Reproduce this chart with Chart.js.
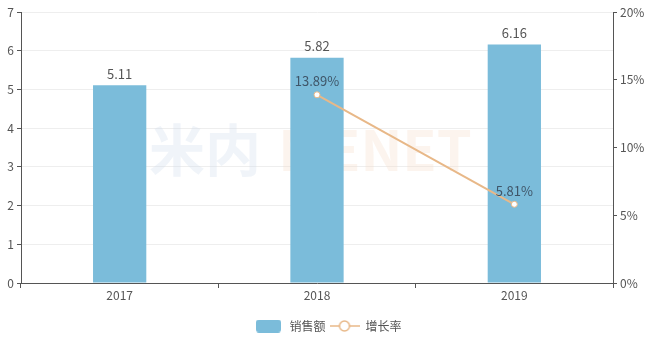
<!DOCTYPE html>
<html>
<head>
<meta charset="utf-8">
<script src="https://cdn.jsdelivr.net/npm/chart.js@4/dist/chart.umd.min.js"></script>
<style>
  html, body { margin: 0; padding: 0; background: #fff; }
  #wrap { width: 655px; height: 342px; }
</style>
</head>
<body>
<div id="wrap"><canvas id="myChart" width="655" height="342"></canvas></div>
<script>
const years = ['2017', '2018', '2019'];
const salesValues = [5.11, 5.82, 6.16];
const growthValues = [null, 13.89, 5.81];
const seriesNames = ['销售额', '增长率'];

const barColor = 'rgb(123, 188, 218)';
const lineColor = 'rgb(232, 184, 136)';
const textColor = '#555';
const fontFamily = '"Noto Sans CJK SC", "Noto Sans", sans-serif';

// legend symbols drawn as small canvases so they look like the original
function makeBarIcon() {
  const c = document.createElement('canvas');
  c.width = 25; c.height = 13;
  const g = c.getContext('2d');
  g.fillStyle = barColor;
  g.beginPath();
  g.roundRect(0, 0, 25, 13, 3);
  g.fill();
  return c;
}
function makeLineIcon() {
  const c = document.createElement('canvas');
  c.width = 30; c.height = 14;
  const g = c.getContext('2d');
  g.strokeStyle = lineColor;
  g.lineWidth = 1.5;
  g.beginPath();
  g.moveTo(0, 7); g.lineTo(30, 7);
  g.stroke();
  g.fillStyle = '#fff';
  g.beginPath();
  g.arc(15, 7, 5, 0, Math.PI * 2);
  g.fill();
  g.stroke();
  return c;
}
const barIcon = makeBarIcon();
const lineIcon = makeLineIcon();

// draws the value labels above bars and points
const valueLabels = {
  id: 'valueLabels',
  afterDatasetsDraw(chart) {
    const ctx = chart.ctx;
    ctx.save();
    ctx.font = '13px ' + fontFamily;
    ctx.textAlign = 'center';
    ctx.textBaseline = 'bottom';
    chart.getDatasetMeta(1).data.forEach((bar, i) => {
      ctx.fillStyle = textColor;
      ctx.fillText(salesValues[i].toFixed(2), bar.x, bar.y - 5);
    });
    chart.getDatasetMeta(0).data.forEach((pt, i) => {
      if (growthValues[i] == null) return;
      ctx.fillStyle = '#3f5568';
      ctx.fillText(growthValues[i].toFixed(2) + '%', pt.x, pt.y - 7);
    });
    ctx.restore();
  }
};

const watermark = {
  id: 'watermark',
  beforeDatasetsDraw(chart) {
    const ctx = chart.ctx;
    ctx.save();
    ctx.font = 'bold 56px ' + fontFamily;
    ctx.textAlign = 'center';
    ctx.textBaseline = 'middle';
    ctx.fillStyle = 'rgba(205, 220, 235, 0.3)';
    ctx.fillText('米内', 205, 150);
    ctx.fillStyle = 'rgba(245, 220, 200, 0.3)';
    ctx.fillText('MENET', 375, 150);
    ctx.restore();
  }
};

const ctx = document.getElementById('myChart');

new Chart(ctx, {
  data: {
    labels: years,
    datasets: [
      {
        type: 'line',
        label: seriesNames[1],
        data: growthValues,
        yAxisID: 'yRate',
        borderColor: lineColor,
        borderWidth: 2,
        pointRadius: 3,
        pointBackgroundColor: '#fff',
        pointBorderColor: lineColor,
        pointBorderWidth: 1,
        order: 0
      },
      {
        type: 'bar',
        label: seriesNames[0],
        data: salesValues,
        yAxisID: 'y',
        backgroundColor: barColor,
        categoryPercentage: 1,
        barPercentage: 0.27,
        order: 1
      }
    ]
  },
  options: {
    responsive: false,
    animation: false,
    layout: { padding: { top: 12, right: 0, left: 0, bottom: 0 } },
    plugins: {
      tooltip: { enabled: false },
      legend: {
        position: 'bottom',
        reverse: true,
        labels: {
          usePointStyle: true,
          pointStyleWidth: 30,
          boxHeight: 13,
          padding: 4,
          color: textColor,
          font: { size: 12, family: fontFamily },
          generateLabels(chart) {
            const items = Chart.defaults.plugins.legend.labels.generateLabels(chart);
            items.forEach(item => {
              item.pointStyle = item.datasetIndex === 1 ? barIcon : lineIcon;
            });
            return items;
          }
        }
      }
    },
    scales: {
      x: {
        grid: { drawOnChartArea: false, offset: true, tickLength: 5, tickColor: textColor },
        border: { color: textColor },
        ticks: { color: textColor, font: { size: 12, family: fontFamily }, padding: 0 },
        afterFit(scale) { scale.height = 33; }
      },
      y: {
        position: 'left',
        min: 0, max: 7,
        grid: { color: '#eeeeee', tickLength: 4, tickColor: textColor },
        border: { color: textColor },
        ticks: { stepSize: 1, color: textColor, font: { size: 12, family: fontFamily }, padding: 3 },
        afterFit(scale) { scale.width = 21; }
      },
      yRate: {
        position: 'right',
        min: 0, max: 20,
        grid: { drawOnChartArea: false, tickLength: 4, tickColor: textColor },
        border: { color: textColor },
        ticks: {
          stepSize: 5, color: textColor, font: { size: 12, family: fontFamily }, padding: 3,
          callback: v => v + '%'
        },
        afterFit(scale) { scale.width = 42; }
      }
    }
  },
  plugins: [watermark, valueLabels]
});
</script>
</body>
</html>
